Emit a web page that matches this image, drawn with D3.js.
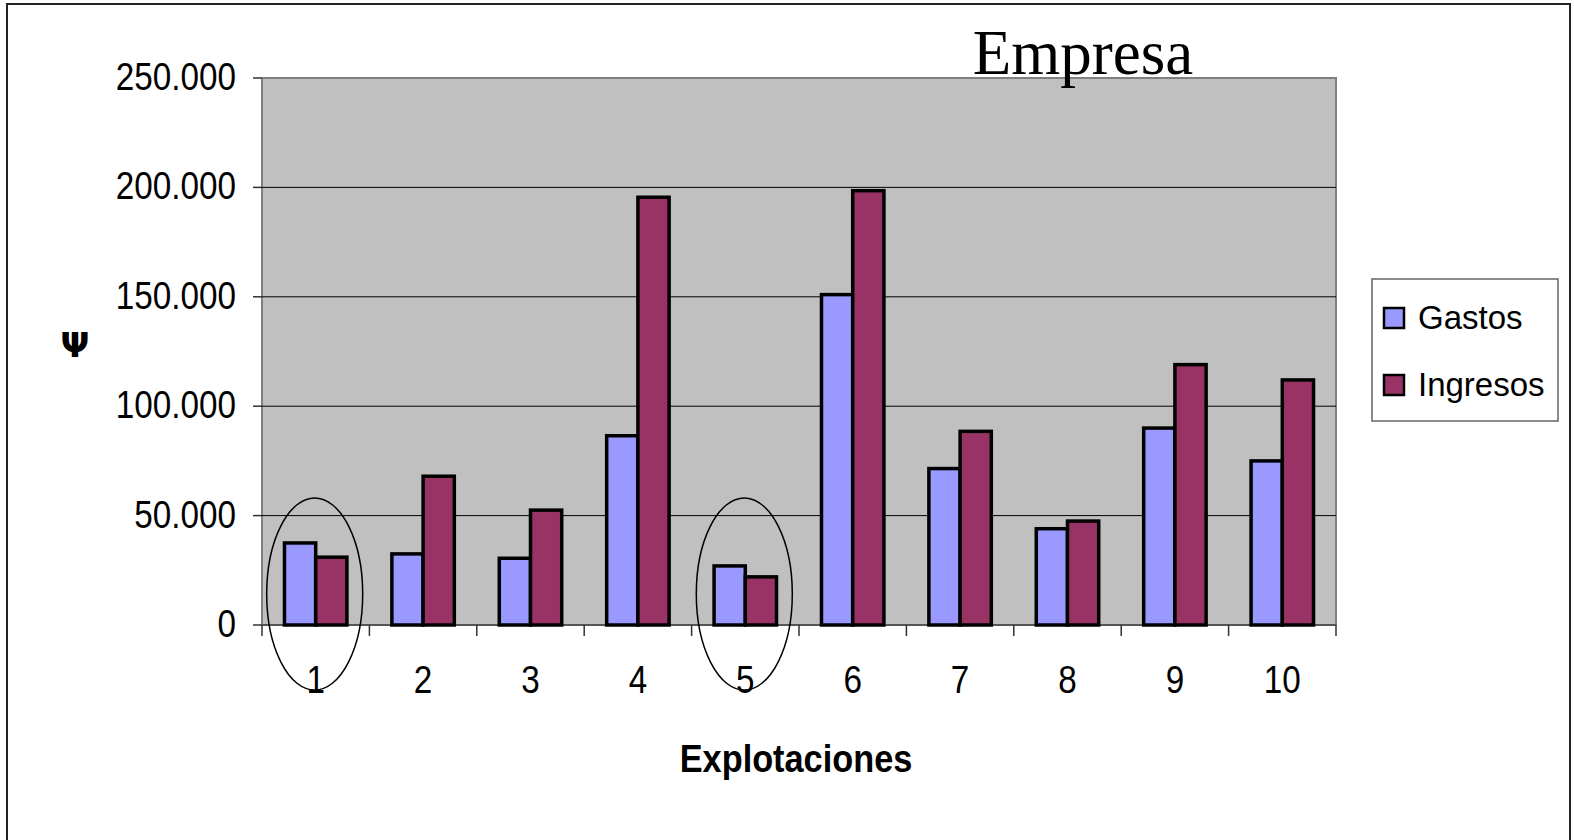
<!DOCTYPE html>
<html>
<head>
<meta charset="utf-8">
<script src="https://cdn.jsdelivr.net/npm/d3@7"></script>
<style>
  body { margin: 0; background: #fff; }
</style>
</head>
<body>
<script>
//data
var categories = ["1", "2", "3", "4", "5", "6", "7", "8", "9", "10"];
var gastos   = [37500, 32500, 30500, 86500, 27000, 151000, 71500, 44000, 90000, 75000];
var ingresos = [31000, 68000, 52500, 195500, 22000, 198500, 88500, 47500, 119000, 112000];
var seriesNames = ["Gastos", "Ingresos"];
var yTicks = [0, 50000, 100000, 150000, 200000, 250000];
var circled = ["1", "5"]; //explotaciones marked with an ellipse

var colors = ["#9999ff", "#993366"];
var sans = "'Liberation Sans', Arial, sans-serif";

//Viz space
var W = 1574, H = 840;
var plot = {left: 262, top: 78, right: 1336, bottom: 625};

var svg = d3.select("body").append("svg")
            .attr("width", W)
            .attr("height", H);

//outer frame (bottom edge runs off the picture)
svg.append("rect")
  .attr("x", 7).attr("y", 4)
  .attr("width", 1563).attr("height", 860)
  .attr("fill", "white")
  .attr("stroke", "#222")
  .attr("stroke-width", 2);

var xScale = d3.scaleBand().domain(categories).range([plot.left, plot.right]);
var yScale = d3.scaleLinear().domain([0, 250000]).range([plot.bottom, plot.top]);

//bars take 2 x 30px inside a 107px band
var inner = d3.scaleBand().domain(seriesNames)
              .range([0, xScale.bandwidth()])
              .paddingInner(0).paddingOuter(0.72);

//plot background
svg.append("rect")
  .attr("x", plot.left).attr("y", plot.top)
  .attr("width", plot.right - plot.left)
  .attr("height", plot.bottom - plot.top)
  .attr("fill", "#c0c0c0")
  .attr("stroke", "#808080")
  .attr("stroke-width", 2);

//gridlines
svg.selectAll("line.grid")
  .data(yTicks.filter(function(d){ return d > 0 && d < 250000; }))
  .enter().append("line")
  .attr("class", "grid")
  .attr("x1", plot.left).attr("x2", plot.right)
  .attr("y1", function(d){ return yScale(d); })
  .attr("y2", function(d){ return yScale(d); })
  .attr("stroke", "#000")
  .attr("stroke-width", 1);

//condensed text helper, the axis labels in the original are squeezed
function squeezed(sel, x, y, txt, size, anchor, weight, sx) {
  var g = sel.append("g").attr("transform", "translate(" + x + "," + y + ")");
  g.append("text")
    .attr("transform", "scale(" + sx + ",1)")
    .attr("text-anchor", anchor)
    .style("font-family", sans)
    .attr("font-size", size)
    .attr("font-weight", weight)
    .attr("fill", "#000")
    .text(txt);
  return g;
}

//y axis ticks + labels
var fmt = function(d){ return d3.format(",")(d).replace(/,/g, "."); };
yTicks.forEach(function(d) {
  svg.append("line")
    .attr("x1", plot.left - 9).attr("x2", plot.left)
    .attr("y1", yScale(d)).attr("y2", yScale(d))
    .attr("stroke", "#333").attr("stroke-width", 1.5);
  squeezed(svg, 236, yScale(d) + 12, fmt(d), 38, "end", "normal", 0.875);
});

//x axis line + ticks on band boundaries
svg.append("line")
  .attr("x1", plot.left).attr("x2", plot.right)
  .attr("y1", plot.bottom).attr("y2", plot.bottom)
  .attr("stroke", "#555").attr("stroke-width", 2);

var bounds = categories.map(function(c){ return xScale(c); }).concat([plot.right]);
svg.selectAll("line.xtick").data(bounds).enter().append("line")
  .attr("class", "xtick")
  .attr("x1", function(d){ return d; }).attr("x2", function(d){ return d; })
  .attr("y1", plot.bottom).attr("y2", plot.bottom + 11)
  .attr("stroke", "#333").attr("stroke-width", 1.5);

categories.forEach(function(c) {
  squeezed(svg, xScale(c) + xScale.bandwidth() / 2, 693, c, 38, "middle", "normal", 0.875);
});

//bars
var rows = categories.map(function(c, i) {
  return {cat: c, values: [gastos[i], ingresos[i]]};
});

var groups = svg.selectAll("g.cat").data(rows).enter().append("g")
  .attr("class", "cat")
  .attr("transform", function(d){ return "translate(" + xScale(d.cat) + ",0)"; });

groups.selectAll("rect")
  .data(function(d){ return d.values.map(function(v, j){ return {name: seriesNames[j], value: v, j: j}; }); })
  .enter().append("rect")
  .attr("x", function(d){ return inner(d.name); })
  .attr("y", function(d){ return yScale(d.value); })
  .attr("width", inner.bandwidth())
  .attr("height", function(d){ return yScale(0) - yScale(d.value); })
  .attr("fill", function(d){ return colors[d.j]; })
  .attr("stroke", "#000")
  .attr("stroke-width", 3.5);

//ellipses round explotaciones 1 and 5
svg.selectAll("ellipse").data(circled).enter().append("ellipse")
  .attr("cx", function(d){ return xScale(d) + xScale.bandwidth() / 2 - 1; })
  .attr("cy", 594)
  .attr("rx", 48)
  .attr("ry", 96)
  .attr("fill", "none")
  .attr("stroke", "#000")
  .attr("stroke-width", 1.5);

//title
svg.append("text")
  .attr("x", 1083).attr("y", 74)
  .attr("text-anchor", "middle")
  .style("font-family", "'Liberation Serif', 'Times New Roman', serif")
  .attr("font-size", 63)
  .attr("fill", "#000")
  .text("Empresa");

//axis titles
squeezed(svg, 796, 772, "Explotaciones", 39, "middle", "bold", 0.88);

svg.append("text")
  .attr("x", 75).attr("y", 357)
  .attr("text-anchor", "middle")
  .style("font-family", "'DejaVu Sans', sans-serif")
  .attr("font-weight", "bold")
  .attr("font-size", 34)
  .attr("fill", "#000")
  .text("Ψ");

//legend
var legend = svg.append("g");
legend.append("rect")
  .attr("x", 1372).attr("y", 279)
  .attr("width", 186).attr("height", 142)
  .attr("fill", "white")
  .attr("stroke", "#666")
  .attr("stroke-width", 1.5);

var legendY = d3.scalePoint().domain(seriesNames).range([318, 385]);
seriesNames.forEach(function(s, j) {
  legend.append("rect")
    .attr("x", 1384).attr("y", legendY(s) - 10)
    .attr("width", 20).attr("height", 20)
    .attr("fill", colors[j])
    .attr("stroke", "#000")
    .attr("stroke-width", 2.5);
  legend.append("text")
    .attr("x", 1418).attr("y", legendY(s) + 11)
    .style("font-family", sans)
    .attr("font-size", 33)
    .attr("fill", "#000")
    .text(s);
});
</script>
</body>
</html>
